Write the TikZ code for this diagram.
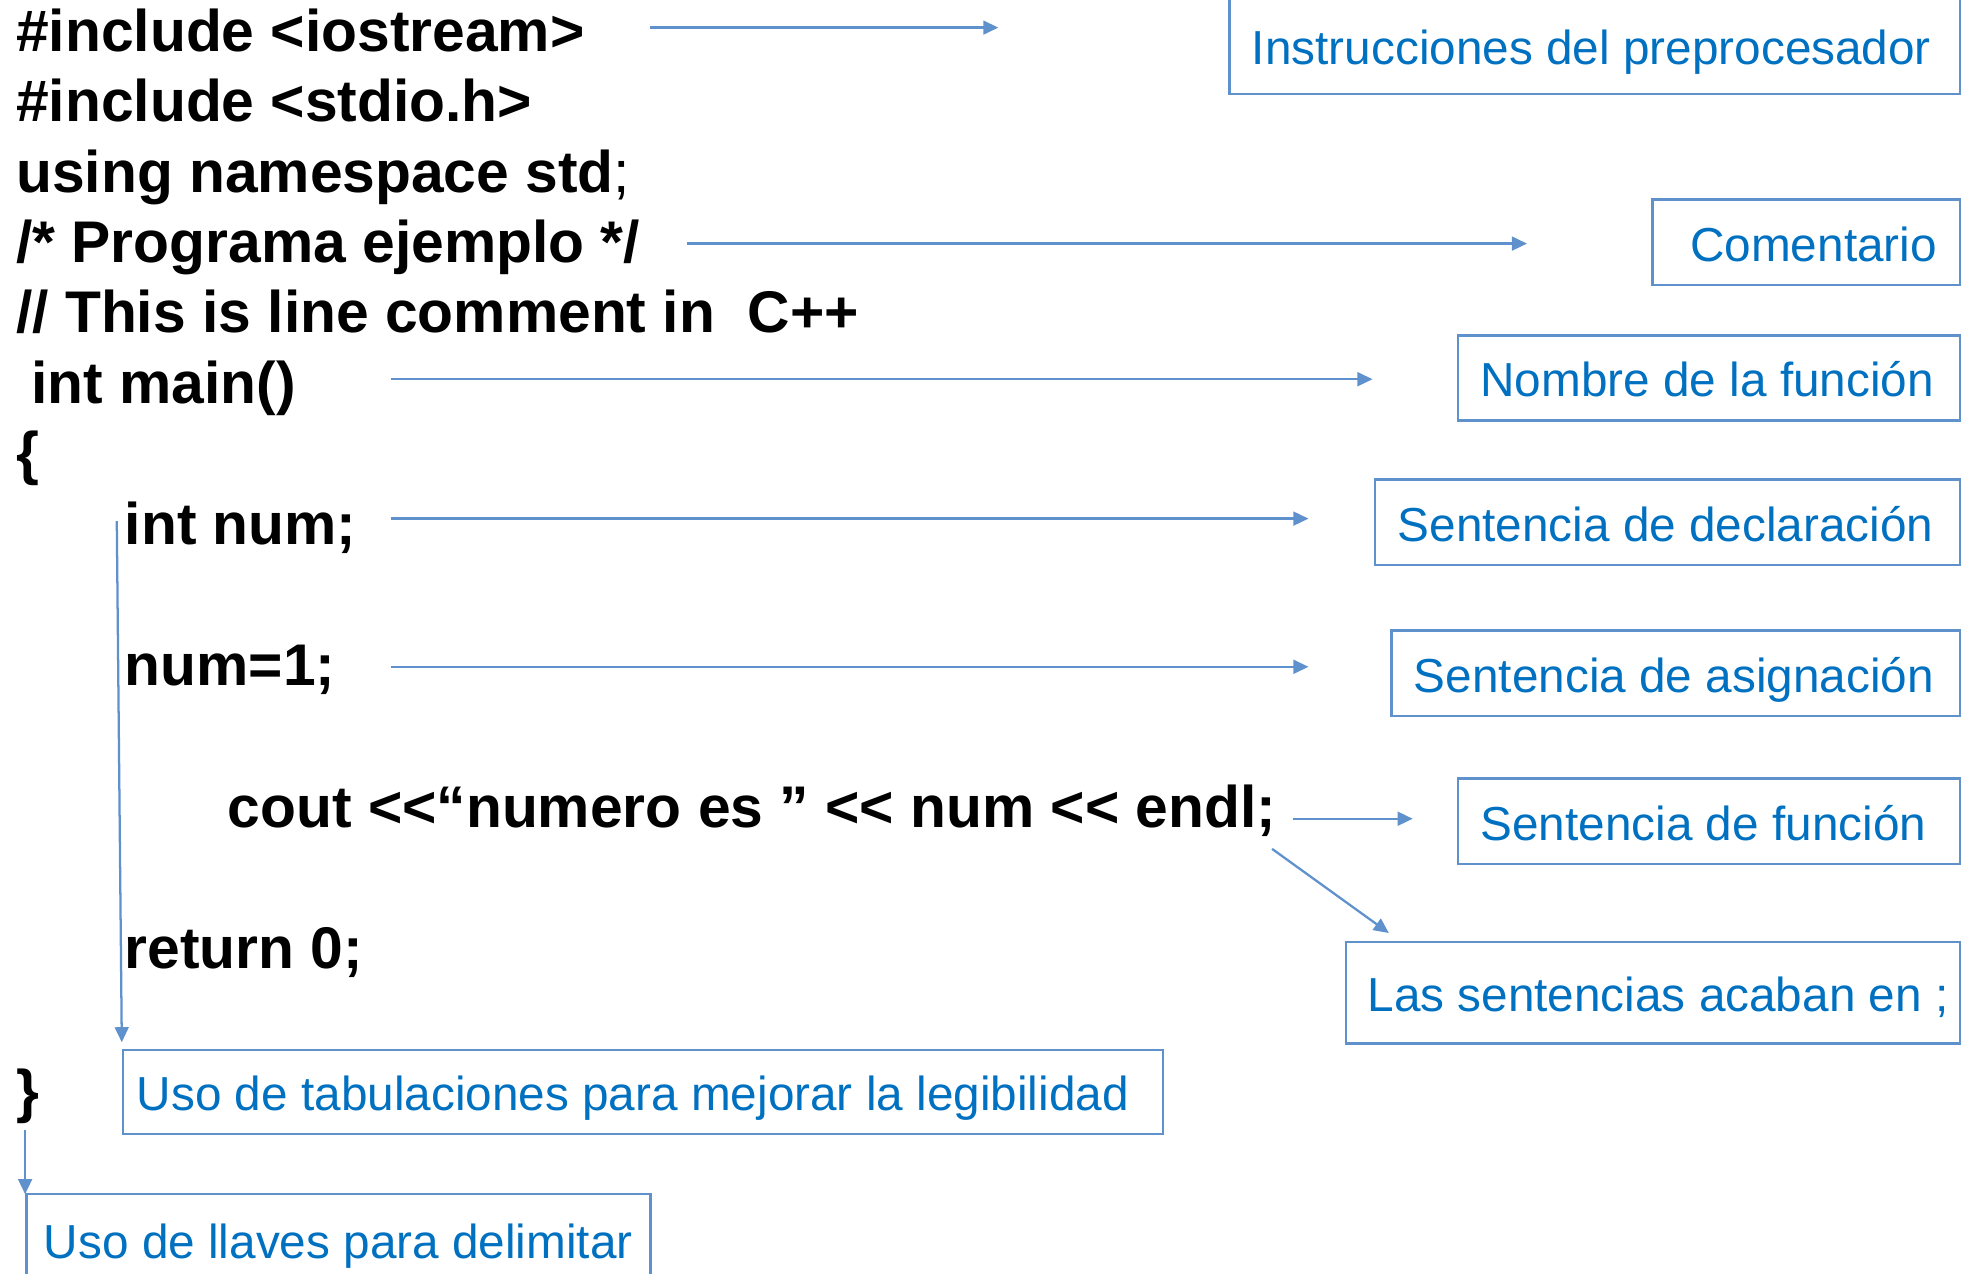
\documentclass[tikz,border=0pt]{standalone}
\usepackage{fontspec}
\setmainfont{Liberation Sans}
\usetikzlibrary{arrows.meta}
\definecolor{lineblue}{RGB}{95,145,205}
\definecolor{textblue}{RGB}{0,112,192}
\newcommand\lblbox[3]{\makebox[#1][l]{\hspace*{#2}#3}}
\tikzset{
  code/.style={anchor=base west, inner sep=0pt, font=\fontsize{23.4}{28}\selectfont\bfseries, text=black},
  lbl/.style={draw=lineblue, line width=1pt, anchor=west, inner xsep=0pt, inner ysep=0pt,
    text height=15.6pt, text depth=0.5pt, text=textblue, font=\fontsize{19}{23}\selectfont},
  arr/.style={draw=lineblue, line width=0.9pt, -{Triangle[length=6pt,width=5.5pt]}},
}
\begin{document}
\begin{tikzpicture}[x=0.5pt,y=-0.5pt]
\useasboundingbox (0,0) rectangle (1568,1014.5);
\clip (0,0) rectangle (1568,1014.5);

% code lines
\node[code] (c1) at (12.5,41) {\#include <iostream>};
\node[code] (c2) at (12.5,97) {\#include <stdio.h>};
\node[code] (c3) at (12.5,153) {using namespace std{\mdseries;}};
\node[code] (c4) at (12.5,209) {/* Programa ejemplo */};
\node[code] (c5) at (12.5,265) {// This is line comment in\ \ C++};
\node[code] (c6) at (24.5,321) {int main()};
\node[code] (c7) at (12.5,377) {\{};
\node[code] (c8) at (99,434) {int num;};
\node[code] (c9) at (99,546) {num=1;};
\node[code] (c10) at (181,659) {cout <{}<“numero es ” <{}< num <{}< endl;};
\node[code] (c11) at (99,771) {return 0;};
\node[code] (c12) at (12.5,885) {\}};

% labels
\node[lbl, minimum height=39pt] (b1) at (978,36) {\lblbox{291pt}{9pt}{Instrucciones del preprocesador}};
\node[lbl, minimum height=34pt] (b2) at (1315,193) {\lblbox{122.5pt}{15pt}{Comentario}};
\node[lbl, minimum height=34pt] (b3) at (1160,301) {\lblbox{200pt}{9pt}{Nombre de la función}};
\node[lbl, minimum height=34pt] (b4) at (1094,416) {\lblbox{233pt}{9pt}{Sentencia de declaración}};
\node[lbl, minimum height=34pt] (b5) at (1107,536) {\lblbox{226.5pt}{9pt}{Sentencia de asignación}};
\node[lbl, minimum height=34pt] (b6) at (1160,654) {\lblbox{200pt}{9pt}{Sentencia de función}};
\node[lbl, minimum height=40.5pt] (b7) at (1071,790.5) {\lblbox{244.5pt}{8.5pt}{Las sentencias acaban en ;}};
\node[lbl, minimum height=33.5pt] (b8) at (97,869.5) {\lblbox{414pt}{5.5pt}{Uso de tabulaciones para mejorar la legibilidad}};
\node[lbl, minimum height=36pt] (b9) at (20,987) {\lblbox{248.5pt}{7pt}{Uso de llaves para delimitar}};

% connector end points
\coordinate (a1s) at (518,22);   \coordinate (a1e) at (795,22);
\coordinate (a2s) at (547,194);  \coordinate (a2e) at (1216,194);
\coordinate (a3s) at (311,302);  \coordinate (a3e) at (1093,302);
\coordinate (a4s) at (311,413);  \coordinate (a4e) at (1042,413);
\coordinate (a5s) at (311,531);  \coordinate (a5e) at (1042,531);
\coordinate (a6s) at (1030,652); \coordinate (a6e) at (1125,652);
\coordinate (a7s) at (1013,676); \coordinate (a7e) at (1106,743);
\coordinate (a8s) at (93,415);   \coordinate (a8e) at (97,830);
\coordinate (a9s) at (20,900);   \coordinate (a9e) at (20,951);

\draw[arr] (a1s) -- (a1e);
\draw[arr] (a2s) -- (a2e);
\draw[arr] (a3s) -- (a3e);
\draw[arr] (a4s) -- (a4e);
\draw[arr] (a5s) -- (a5e);
\draw[arr] (a6s) -- (a6e);
\draw[arr] (a7s) -- (a7e);
\draw[arr] (a8s) -- (a8e);
\draw[arr] (a9s) -- (a9e);
\end{tikzpicture}
\end{document}
